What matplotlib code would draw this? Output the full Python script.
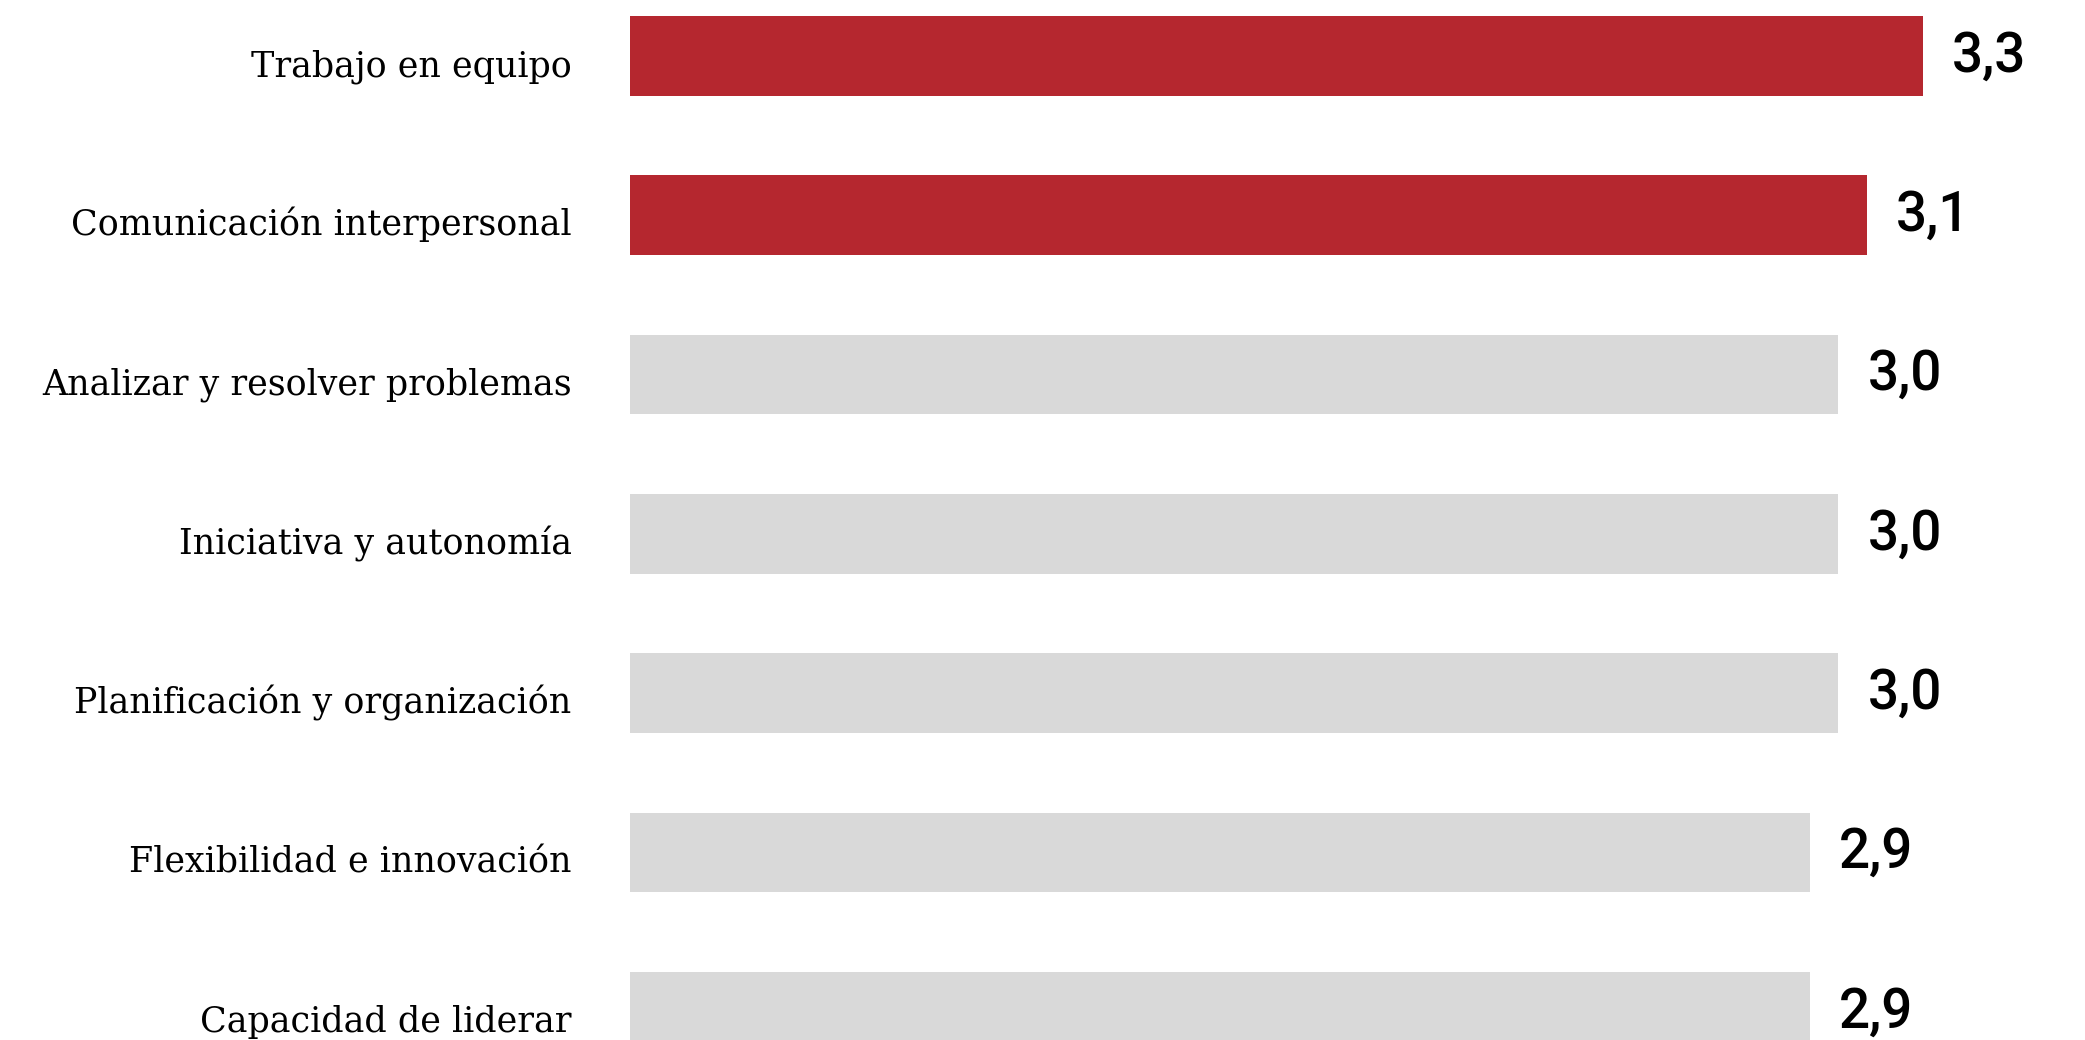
import matplotlib
matplotlib.use("Agg")
import matplotlib.pyplot as plt
from matplotlib import font_manager as fm

categories = [
    "Trabajo en equipo",
    "Comunicación interpersonal",
    "Analizar y resolver problemas",
    "Iniciativa y autonomía",
    "Planificación y organización",
    "Flexibilidad e innovación",
    "Capacidad de liderar",
]
values = [3.3, 3.1, 3.0, 3.0, 3.0, 2.9, 2.9]
value_labels = ["3,3", "3,1", "3,0", "3,0", "3,0", "2,9", "2,9"]
highlight = [True, True, False, False, False, False, False]

RED = "#B5272F"
GREY = "#D9D9D9"

names = {f.name for f in fm.fontManager.ttflist}
serif = "DejaVu Serif Condensed" if "DejaVu Serif Condensed" in names else "DejaVu Serif"

W, H, DPI = 2085, 1040, 100
fig = plt.figure(figsize=(W / DPI, H / DPI), dpi=DPI)
ax = fig.add_axes([0, 0, 1, 1])

base = -1.277
scale = 282.5  # px per unit
x0_px = 630
ax.set_xlim(base - x0_px / scale, base + (W - x0_px) / scale)
pitch = 159.3
c0 = 56
ax.set_ylim((H - c0) / pitch, -c0 / pitch)

ys = list(range(len(categories)))
colors = [RED if h else GREY for h in highlight]
ax.barh(ys, [v - base for v in values], left=base, height=0.5, color=colors)

for y, v, lab, cat in zip(ys, values, value_labels, categories):
    ax.annotate(lab, xy=(v, y), xytext=(21, 0), textcoords="offset points",
                ha="left", va="center", fontsize=39.5, family="Roboto",
                fontweight="medium", color="black")
    ax.annotate(cat, xy=(base, y), xytext=(-42, -14.5), textcoords="offset points",
                ha="right", va="baseline", fontsize=25.1, family=serif,
                color="black")

ax.axis("off")
fig.savefig("out.png", dpi=DPI, facecolor="white")
